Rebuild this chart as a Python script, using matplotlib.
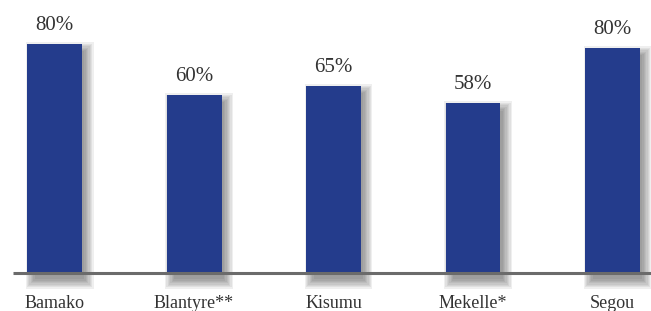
import matplotlib

matplotlib.use("Agg")
import matplotlib.pyplot as plt
from matplotlib.patches import Rectangle

cities = ["Bamako", "Blantyre**", "Kisumu", "Mekelle*", "Segou"]
heights = [79.0, 61.4, 64.5, 58.6, 77.6]
labels = ["80%", "60%", "65%", "58%", "80%"]

BAR_COLOR = "#243c8c"
TEXT_COLOR = "#333333"
WIDTH = 0.394
PX_X = 1 / 139.5   # data units per pixel
PX_Y = 1 / 2.9

plt.rcParams["font.family"] = ["Liberation Serif", "DejaVu Serif"]

fig = plt.figure(figsize=(6.51, 3.11), dpi=100)
ax = fig.add_axes([0, 0, 1, 1])
ax.set_xlim(-0.391, 4.276)
ax.set_ylim(-13.1, 94.1)
ax.axis("off")

x = list(range(len(cities)))

# soft drop shadow offset right/down, built from stacked translucent rectangles
for xi, h in zip(x, heights):
    left = xi - WIDTH / 2 + 5 * PX_X
    bottom = -9 * PX_Y
    top = h - 5 * PX_Y
    for k in range(8):
        gx = (k - 2) * PX_X * 1.3
        gy = (k - 2) * PX_Y * 1.3
        ax.add_patch(Rectangle(
            (left - gx, bottom - gy), WIDTH + 2 * gx, (top - bottom) + 2 * gy,
            facecolor="#3c3c3c", alpha=0.08, edgecolor="none", zorder=1))

ax.bar(x, heights, width=WIDTH, color=BAR_COLOR, zorder=3)
ax.plot([-0.297, 4.276], [0, 0], color="#6b6b6b", lw=2.2, zorder=4,
        solid_capstyle="butt")

for xi, h, lab in zip(x, heights, labels):
    ax.text(xi, h + 3.0, lab, ha="center", va="bottom", fontsize=15,
            color=TEXT_COLOR, zorder=5)

for xi, name in zip(x, cities):
    ax.text(xi, -10.6, name, ha="center", va="center", fontsize=13,
            color=TEXT_COLOR, zorder=5)

fig.savefig("out.png", dpi=100)
plt.close(fig)
